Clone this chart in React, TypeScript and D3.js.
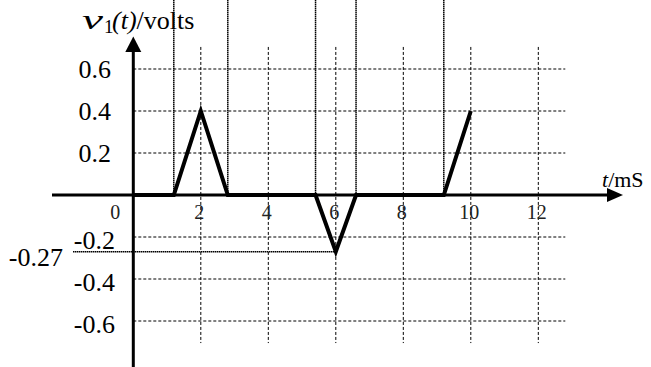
import React from "react";
import * as d3 from "d3";

// waveform breakpoints (ms, volts)
const waveT = [0, 1.2, 2, 2.8, 5.4, 6, 6.6, 9.2, 10];
const waveV = [0, 0, 0.4, 0, 0, -0.27, 0, 0, 0.4];

// vertical marker lines at the corners of the pulses
const markerT = [1.2, 2.8, 5.4, 6.6, 9.2];

const xTickValues = [0, 2, 4, 6, 8, 10, 12];
const xGridValues = [2, 4, 6, 8, 10, 12];
const yTickValues = [0.6, 0.4, 0.2, -0.2, -0.4, -0.6];
const yTickLabels = ["0.6", "0.4", "0.2", "-0.2", "-0.4", "-0.6"];
const minValue = -0.27;
const minAt = 6;

const W = 651;
const H = 367;
const serif = "'Liberation Serif', 'Times New Roman', serif";

export default function App() {
  const x = d3.scaleLinear().domain([0, 12]).range([133.3, 538.3]);
  const y = d3.scaleLinear().domain([-0.6, 0.6]).range([321, 69]);

  const line = d3
    .line<number>()
    .x((d, i) => x(waveT[i]))
    .y((d) => y(d));

  const x0 = x(0);
  const y0 = y(0);

  return (
    <svg
      width={W}
      height={H}
      style={{ position: "absolute", left: 0, top: 0, background: "#fff" }}
      fontFamily={serif}
    >
      {/* dashed grid */}
      <g stroke="#000" strokeWidth={1} strokeDasharray="3,2" fill="none">
        {xGridValues.map((v) => (
          <line key={"gx" + v} x1={x(v)} x2={x(v)} y1={y(0.705)} y2={y(-0.705)} />
        ))}
        {yTickValues.map((v) => (
          <line key={"gy" + v} x1={x0} x2={x(12.8)} y1={y(v)} y2={y(v)} />
        ))}
      </g>

      {/* breakpoint markers */}
      <g stroke="#000" strokeWidth={1.5} strokeDasharray="1.5,0.5">
        {markerT.map((t) => (
          <line key={"m" + t} x1={x(t)} x2={x(t)} y1={0} y2={y0} />
        ))}
        <line x1={73} x2={x(minAt)} y1={y(minValue)} y2={y(minValue)} />
      </g>

      {/* axes */}
      <line x1={52} x2={608} y1={y0} y2={y0} stroke="#000" strokeWidth={3} />
      <path d={`M${623},${y0} L${607},${y0 - 7} L${607},${y0 + 7} Z`} fill="#000" />
      <line x1={x0} x2={x0} y1={H} y2={50} stroke="#000" strokeWidth={3} />
      <path d={`M${x0},${36.5} L${x0 - 8},${52} L${x0 + 8},${52} Z`} fill="#000" />

      {/* waveform */}
      <path
        d={line(waveV) || ""}
        fill="none"
        stroke="#000"
        strokeWidth={4}
        strokeLinejoin="miter"
      />

      {/* x tick labels */}
      <g fontSize={20} fill="#222" textAnchor="middle">
        {xTickValues.map((v) => (
          <text key={"xt" + v} x={v === 0 ? x0 - 18 : x(v) - 1.5} y={219}>
            {v}
          </text>
        ))}
      </g>

      {/* y tick labels */}
      <g fontSize={26} fill="#000" textAnchor="end">
        {yTickValues.map((v, i) => (
          <text key={"yt" + v} x={v > 0 ? 111 : 115} y={y(v) + (v > 0 ? 9 : 12)}>
            {yTickLabels[i]}
          </text>
        ))}
        <text x={63} y={y(minValue) + 14}>
          {String(minValue)}
        </text>
      </g>

      {/* axis titles */}
      <text y={29} fontSize={26} fill="#000">
        <tspan x={82} fontStyle="italic" fontSize={28} textLength={21} lengthAdjust="spacingAndGlyphs">
          v
        </tspan>
        <tspan x={104} y={33} fontSize={19}>
          1
        </tspan>
        <tspan x={112} y={29} fontStyle="italic">
          (t)
        </tspan>
        <tspan>/volts</tspan>
      </text>
      <text y={186.5} fontSize={22} fill="#000">
        <tspan x={602} fontStyle="italic">
          t
        </tspan>
        <tspan>/mS</tspan>
      </text>
    </svg>
  );
}
